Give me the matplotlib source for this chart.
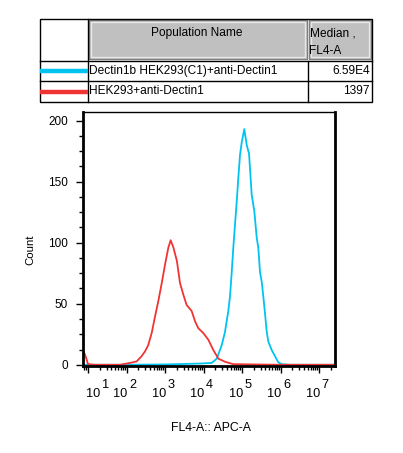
import matplotlib
matplotlib.use("Agg")
import matplotlib.pyplot as plt
import numpy as np
from matplotlib.patches import Rectangle
from matplotlib.ticker import FixedLocator, MultipleLocator, NullFormatter
from matplotlib.transforms import blended_transform_factory, offset_copy

plt.rcParams['font.family'] = ['Liberation Sans', 'DejaVu Sans']

# table contents
populations = ["Dectin1b HEK293(C1)+anti-Dectin1", "HEK293+anti-Dectin1"]
medians = ["6.59E4", "1397"]
colors = ["#00c3f0", "#f03434"]

# histogram traces, x as log10(FL4-A), y as count
blue_log = [0.865, 2.034, 3.042, 3.903, 4.208, 4.338, 4.468, 4.553, 4.639, 4.683, 4.728,
            4.769, 4.813, 4.858, 4.899, 4.943, 4.987, 5.054, 5.117, 5.177, 5.247,
            5.314, 5.377, 5.418, 5.462, 5.507, 5.548, 5.592, 5.637, 5.678, 5.767,
            5.852, 5.938, 6.026, 6.241, 7.41]
blue_cnt = [0, 0, 0.3, 1, 1.5, 5, 16, 27, 44, 56, 76,
            96, 115, 134, 153, 172, 182, 193, 180, 173, 139,
            126, 104, 96, 76, 68, 56, 42, 27, 19, 12,
            7, 2, 0.5, 0, 0]

red_log = [0.87, 0.943, 0.995, 1.177, 1.822, 2.084, 2.256, 2.386, 2.477, 2.558, 2.649,
           2.739, 2.820, 2.911, 3.001, 3.082, 3.142, 3.213, 3.304, 3.384, 3.475,
           3.556, 3.687, 3.777, 3.858, 3.989, 4.120, 4.251, 4.382, 4.553, 4.765,
           5.984, 7.41]
red_cnt = [12, 6, 0.5, 0, 0, 1.5, 2.7, 7, 11, 16, 26,
           40, 52, 67, 83, 96, 102, 96, 85, 67, 57,
           49, 44, 35.5, 30, 26, 20.5, 12, 5, 2.5, 0.5,
           0, 0]

decades = [1, 2, 3, 4, 5, 6, 7]

W, H = 403, 453
fig = plt.figure(figsize=(W / 100, H / 100), dpi=100)

# plot area in pixels: x 83..335, y 112..366
ax = fig.add_axes([83 / W, 1 - 366 / H, (335 - 83) / W, (366 - 112) / H])
ax.plot(10 ** np.array(blue_log), blue_cnt, color=colors[0], lw=1.3)
ax.plot(10 ** np.array(red_log), red_cnt, color=colors[1], lw=1.3)
ax.set_xscale('log')
ax.set_xlim(10 ** 0.865, 10 ** 7.41)
ax.set_ylim(-1, 207)

ax.xaxis.set_major_locator(FixedLocator([10.0 ** d for d in decades]))
minors = [m * 10.0 ** d for d in range(0, 8) for m in range(2, 10)]
ax.xaxis.set_minor_locator(FixedLocator(minors))
ax.xaxis.set_major_formatter(NullFormatter())
ax.xaxis.set_minor_formatter(NullFormatter())
ax.yaxis.set_major_locator(MultipleLocator(50))
ax.yaxis.set_minor_locator(MultipleLocator(12.5))
ax.tick_params(which='major', length=5, width=1, labelsize=8.5, pad=6)
ax.tick_params(which='minor', length=3, width=1)
for s in ['left', 'bottom', 'right']:
    ax.spines[s].set_linewidth(2)
ax.spines['top'].set_linewidth(1)

# FlowJo-style decade labels: "10" with a full-size raised exponent
tr = blended_transform_factory(ax.transData, fig.transFigure)
for d in decades:
    base_dx = 12 if d == 1 else 1
    t_base = offset_copy(tr, fig=fig, x=base_dx, y=0, units='dots')
    t_exp = offset_copy(tr, fig=fig, x=base_dx + 1.5, y=9, units='dots')
    ax.text(10.0 ** d, 1 - 397 / H, "10", transform=t_base, ha='right',
            va='baseline', fontsize=9.2, clip_on=False)
    ax.text(10.0 ** d, 1 - 397 / H, str(d), transform=t_exp, ha='left',
            va='baseline', fontsize=9.2, clip_on=False)

fig.text(30 / W, 1 - 250 / H, "Count", rotation=90, ha='center', va='center', fontsize=8.2)
fig.text(211 / W, 1 - 428 / H, "FL4-A:: APC-A", ha='center', va='center', fontsize=8.8)

# table drawn in a pixel-coordinate overlay
tab = fig.add_axes([0, 0, 1, 1])
tab.set_xlim(0, W)
tab.set_ylim(H, 0)
tab.axis('off')
tab.patch.set_alpha(0)

# header gray cells with bevel
for x0, x1 in [(89, 307), (309, 371)]:
    tab.add_patch(Rectangle((x0, 19.5), x1 - x0, 39.5, facecolor='#c0c0c0',
                            edgecolor='#808080', lw=1))
    tab.add_patch(Rectangle((x0 + 2, 21.5), x1 - x0 - 4, 35.5, facecolor='#c0c0c0',
                            edgecolor='#e8e8e8', lw=1))

lk = dict(color='black', lw=1)
tab.add_patch(Rectangle((40, 18.5), 332, 83, fill=False, **lk))
tab.plot([40, 372], [60.5, 60.5], **lk)
tab.plot([40, 372], [81, 81], **lk)
tab.plot([88, 88], [18.5, 101.5], **lk)
tab.plot([308, 308], [60.5, 101.5], **lk)

fs = 8.6
tab.text(197, 33, "Population Name", ha='center', va='center', fontsize=fs)
tab.text(309.5, 33, "Median ,", ha='left', va='center', fontsize=fs)
tab.text(309.5, 51, "FL4-A", ha='left', va='center', fontsize=fs)

for i, (name, med, c) in enumerate(zip(populations, medians, colors)):
    yc = 71 + 20.5 * i
    tab.plot([40, 88], [yc, yc], color=c, lw=3.2, solid_capstyle='butt')
    tab.text(89, yc, name, ha='left', va='center', fontsize=fs)
    tab.text(370, yc, med, ha='right', va='center', fontsize=fs)

fig.savefig("out.png", dpi=100)
